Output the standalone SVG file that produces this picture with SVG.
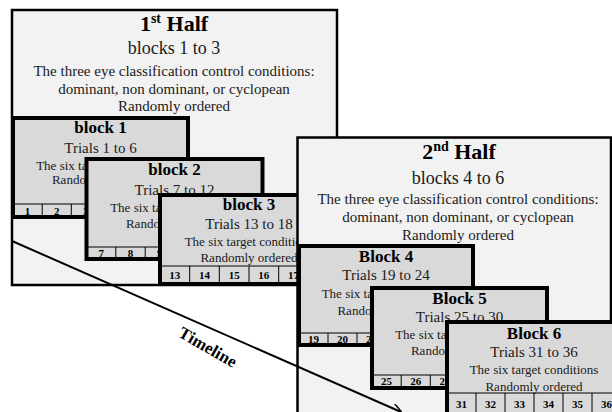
<svg xmlns="http://www.w3.org/2000/svg" width="612" height="412" viewBox="0 0 612 412">
<style>
text{font-family:"Liberation Serif","Times New Roman",serif;text-anchor:middle;fill:#1a1a1a}
.half{fill:#f2f2f2;stroke:#000;stroke-width:2.5}
.blk{fill:#d9d9d9;stroke:#000;stroke-width:4}
.cell{stroke:#000;stroke-width:1;fill:none}
.t{font-size:22px;font-weight:bold;fill:#000}
.s{font-size:18px}
.m{font-size:15px}
.bt{font-size:17px;font-weight:bold;fill:#000}
.tr{font-size:15px}
.sm{font-size:13px}
.n{font-size:11px;font-weight:bold;fill:#000}
.tl{font-size:17px;font-weight:bold;fill:#000}
</style>
<defs>
<marker id="arr" viewBox="0 0 10 10" refX="9" refY="5" markerWidth="5" markerHeight="5" orient="auto" markerUnits="strokeWidth">
<path d="M0,0 L10,5 L0,10" fill="none" stroke="#000" stroke-width="1.5"/>
</marker>
</defs>
<rect width="612" height="412" fill="#fff"/>

<g id="half1">
<rect class="half" x="12" y="10" width="325" height="275"/>
<text class="t" x="174" y="31">1<tspan font-size="14" dy="-8">st</tspan><tspan dy="8"> Half</tspan></text>
<text class="s" x="174" y="54">blocks 1 to 3</text>
<text class="m" x="174" y="76">The three eye classification control conditions:</text>
<text class="m" x="174" y="93.5">dominant, non dominant, or cyclopean</text>
<text class="m" x="174" y="111">Randomly ordered</text>
</g>

<g id="block1">
<rect class="blk" x="13" y="118" width="175" height="99"/>
<text class="bt" x="100.5" y="133">block 1</text>
<text class="tr" x="100.5" y="152.5">Trials 1 to 6</text>
<text class="sm" x="100.5" y="169.5">The six target conditions</text>
<text class="sm" x="100.5" y="183.5">Randomly ordered</text>
<path class="cell" d="M13,204H188M42.2,204V217M71.3,204V217M100.5,204V217M129.7,204V217M158.8,204V217"/>
<text class="n" x="27.6" y="215">1</text><text class="n" x="56.8" y="215">2</text><text class="n" x="85.9" y="215">3</text>
</g>

<g id="block2">
<rect class="blk" x="86.5" y="159" width="176" height="100"/>
<text class="bt" x="174.5" y="175">block 2</text>
<text class="tr" x="174.5" y="194.5">Trials 7 to 12</text>
<text class="sm" x="174.5" y="211.5">The six target conditions</text>
<text class="sm" x="174.5" y="227.5">Randomly ordered</text>
<path class="cell" d="M86.5,247H262.5M115.8,247V259M145.2,247V259M174.5,247V259M203.8,247V259M233.2,247V259"/>
<text class="n" x="101.2" y="257">7</text><text class="n" x="130.5" y="257">8</text><text class="n" x="159.8" y="257">9</text>
</g>

<g id="block3">
<rect class="blk" x="160" y="195" width="178" height="89"/>
<text class="bt" x="249" y="209.5">block 3</text>
<text class="tr" x="249" y="228.5">Trials 13 to 18</text>
<text class="sm" x="249" y="245.5">The six target conditions</text>
<text class="sm" x="249" y="262">Randomly ordered</text>
<path class="cell" d="M160,266H338M189.7,266V284M219.3,266V284M249,266V284M278.7,266V284M308.3,266V284"/>
<text class="n" x="174.8" y="279">13</text><text class="n" x="204.5" y="279">14</text><text class="n" x="234.2" y="279">15</text><text class="n" x="263.8" y="279">16</text><text class="n" x="293.5" y="279">17</text>
</g>

<g id="half2">
<rect class="half" x="297.5" y="137.5" width="313.5" height="290"/>
<text class="t" x="459" y="158.5">2<tspan font-size="14" dy="-8">nd</tspan><tspan dy="8"> Half</tspan></text>
<text class="s" x="458" y="183.5">blocks 4 to 6</text>
<text class="m" x="458" y="203.5">The three eye classification control conditions:</text>
<text class="m" x="458" y="221.5">dominant, non dominant, or cyclopean</text>
<text class="m" x="458" y="240">Randomly ordered</text>
</g>

<g id="block4">
<rect class="blk" x="299" y="246" width="174" height="99"/>
<text class="bt" x="386" y="261.5">Block 4</text>
<text class="tr" x="386" y="280">Trials 19 to 24</text>
<text class="sm" x="386" y="298">The six target conditions</text>
<text class="sm" x="386" y="315">Randomly ordered</text>
<path class="cell" d="M299,333H473M328,333V345M357,333V345M386,333V345M415,333V345M444,333V345"/>
<text class="n" x="313.5" y="343">19</text><text class="n" x="342.5" y="343">20</text><text class="n" x="371.5" y="343">21</text>
</g>

<g id="block5">
<rect class="blk" x="372" y="288" width="175" height="100"/>
<text class="bt" x="459.5" y="303.5">Block 5</text>
<text class="tr" x="459.5" y="321.5">Trials 25 to 30</text>
<text class="sm" x="459.5" y="339">The six target conditions</text>
<text class="sm" x="459.5" y="355">Randomly ordered</text>
<path class="cell" d="M372,375H547M401.2,375V388M430.3,375V388M459.5,375V388M488.7,375V388M517.8,375V388"/>
<text class="n" x="386.6" y="385">25</text><text class="n" x="415.8" y="385">26</text><text class="n" x="444.9" y="385">27</text>
</g>

<g id="block6">
<rect class="blk" x="447" y="322" width="174" height="100"/>
<text class="bt" x="534" y="338.5">Block 6</text>
<text class="tr" x="534" y="356.5">Trials 31 to 36</text>
<text class="sm" x="534" y="374">The six target conditions</text>
<text class="sm" x="534" y="390.5">Randomly ordered</text>
<path class="cell" d="M447,393H621M476,393V422M505,393V422M534,393V422M563,393V422M592,393V422"/>
<text class="n" x="461.5" y="408">31</text><text class="n" x="490.5" y="408">32</text><text class="n" x="519.5" y="408">33</text><text class="n" x="548.5" y="408">34</text><text class="n" x="577.5" y="408">35</text><text class="n" x="606.5" y="408">36</text>
</g>

<g id="connectors">
<line x1="12" y1="241" x2="401" y2="412" stroke="#000" stroke-width="2" marker-end="url(#arr)"/>
<text class="tl" transform="translate(205,352) rotate(30)" x="0" y="0">Timeline</text>
</g>
</svg>
